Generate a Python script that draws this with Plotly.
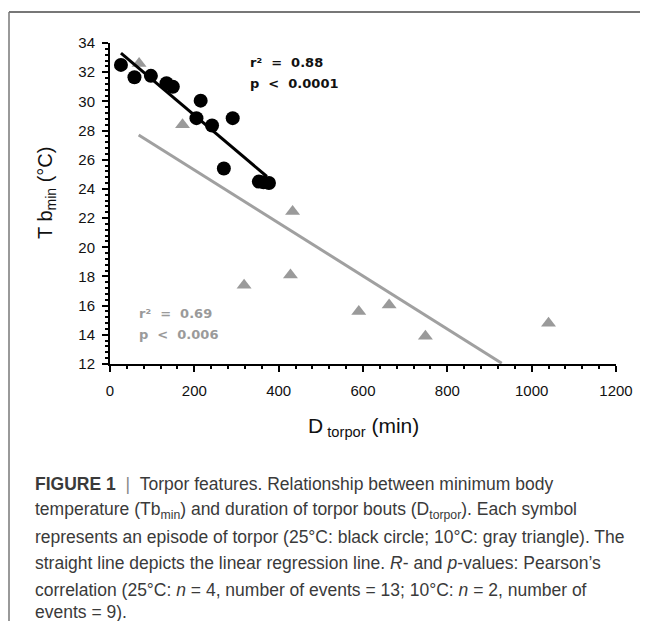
import plotly.graph_objects as go

# ---- data ----
circ_x = [26, 58, 97, 134, 149, 215, 205, 242, 291, 270, 353, 364, 377]
circ_y = [32.5, 31.65, 31.75, 31.25, 31.0, 30.05, 28.85, 28.35, 28.85, 25.4, 24.5, 24.45, 24.4]
tri_x = [69, 172, 433, 318, 428, 590, 662, 748, 1040]
tri_y = [32.6, 28.4, 22.45, 17.4, 18.1, 15.6, 16.05, 13.9, 14.8]
fit25_x = [26, 372]
fit25_y = [33.3, 24.85]
fit10_x = [68, 929]
fit10_y = [27.7, 12.05]
x_ticks = [0, 200, 400, 600, 800, 1000, 1200]
y_ticks = [12, 14, 16, 18, 20, 22, 24, 26, 28, 30, 32, 34]

caption_lines = [
    "<b>FIGURE 1</b>&nbsp;&nbsp;<span style='color:#888'>|</span>&nbsp;&nbsp;Torpor features. Relationship between minimum body",
    "temperature (Tb<sub>min</sub>) and duration of torpor bouts (D<sub>torpor</sub>). Each symbol",
    "represents an episode of torpor (25°C: black circle; 10°C: gray triangle). The",
    "straight line depicts the linear regression line. <i>R</i>- and <i>p</i>-values: Pearson’s",
    "correlation (25°C: <i>n</i> = 4, number of events = 13; 10°C: <i>n</i> = 2, number of",
    "events = 9).",
]

# page offset (browser body margin) and reference canvas
OFF = 8
W, H = 648, 621
L, R, T, B = 110, 616, 43, 364  # plot area in reference pixels

def px(xp):
    return (xp - L) / (R - L)

def py(yp):
    return (B - yp) / (B - T)

fig = go.Figure()
fig.add_trace(go.Scatter(x=tri_x, y=tri_y, mode="markers",
                         marker=dict(symbol="triangle-up", size=13, color="#9a9a9a"),
                         cliponaxis=False, showlegend=False))
fig.add_trace(go.Scatter(x=fit10_x, y=fit10_y, mode="lines",
                         line=dict(color="#a0a0a0", width=3), cliponaxis=False, showlegend=False))
fig.add_trace(go.Scatter(x=circ_x, y=circ_y, mode="markers",
                         marker=dict(symbol="circle", size=14, color="#000000"),
                         cliponaxis=False, showlegend=False))
fig.add_trace(go.Scatter(x=fit25_x, y=fit25_y, mode="lines",
                         line=dict(color="#000000", width=3), cliponaxis=False, showlegend=False))

tickfont = dict(family="Liberation Sans", size=15, color="#111")
fig.update_xaxes(range=[0, 1200], tickvals=x_ticks, showline=True, linecolor="#000", linewidth=2,
                 ticks="outside", ticklen=6, tickwidth=2, tickcolor="#000", tickfont=tickfont,
                 showgrid=False, zeroline=False, ticklabelstandoff=6,
                 minor=dict(dtick=40, ticks="outside", ticklen=3, tickwidth=1.5, tickcolor="#000"))
fig.update_yaxes(range=[12, 34], tickvals=y_ticks, showline=True, linecolor="#000", linewidth=2,
                 ticks="outside", ticklen=6, tickwidth=2, tickcolor="#000", tickfont=tickfont,
                 showgrid=False, zeroline=False, ticklabelstandoff=4,
                 minor=dict(dtick=0.4, ticks="outside", ticklen=3, tickwidth=1.5, tickcolor="#000"))

def note(x, y, text, font, xanchor="center", textangle=0):
    return dict(x=px(x), y=py(y), xref="paper", yref="paper", showarrow=False,
                xanchor=xanchor, yanchor="middle", text=text, font=font, textangle=textangle)

ann = []
ann.append(note(363, 427, "D<sub> torpor</sub> (min)", dict(family="Liberation Sans", size=21, color="#111")))
ann.append(note(46, 193, "T b<sub>min</sub> (°C)", dict(family="Liberation Sans", size=20, color="#111"),
                textangle=-90))
statb = dict(family="DejaVu Sans", size=13, color="#111")
statg = dict(family="DejaVu Sans", size=13, color="#9a9a9a")
ann.append(note(248, 62, "<b>r²  =  0.88</b>", statb, xanchor="left"))
ann.append(note(248, 83, "<b>p  <  0.0001</b>", statb, xanchor="left"))
ann.append(note(137, 313, "<b>r²  =  0.69</b>", statg, xanchor="left"))
ann.append(note(137, 334, "<b>p  <  0.006</b>", statg, xanchor="left"))
cap_y = [484, 510, 537, 563, 590, 612]
capfont = dict(family="Liberation Sans", size=17.5, color="#3a3a3a")
for t, yy in zip(caption_lines, cap_y):
    ann.append(note(33, yy, t, capfont, xanchor="left"))

shapes = [
    dict(type="line", xref="paper", yref="paper", x0=px(9), x1=px(660), y0=py(12), y1=py(12),
         line=dict(color="#777", width=2)),
    dict(type="line", xref="paper", yref="paper", x0=px(9), x1=px(9), y0=py(12), y1=py(640),
         line=dict(color="#777", width=1.5)),
]

fig.update_layout(width=W - OFF, height=H - OFF,
                  margin=dict(l=L - OFF, r=W - R, t=T - OFF, b=H - B),
                  paper_bgcolor="white", plot_bgcolor="white",
                  annotations=ann, shapes=shapes)
fig.write_html("out.html")
